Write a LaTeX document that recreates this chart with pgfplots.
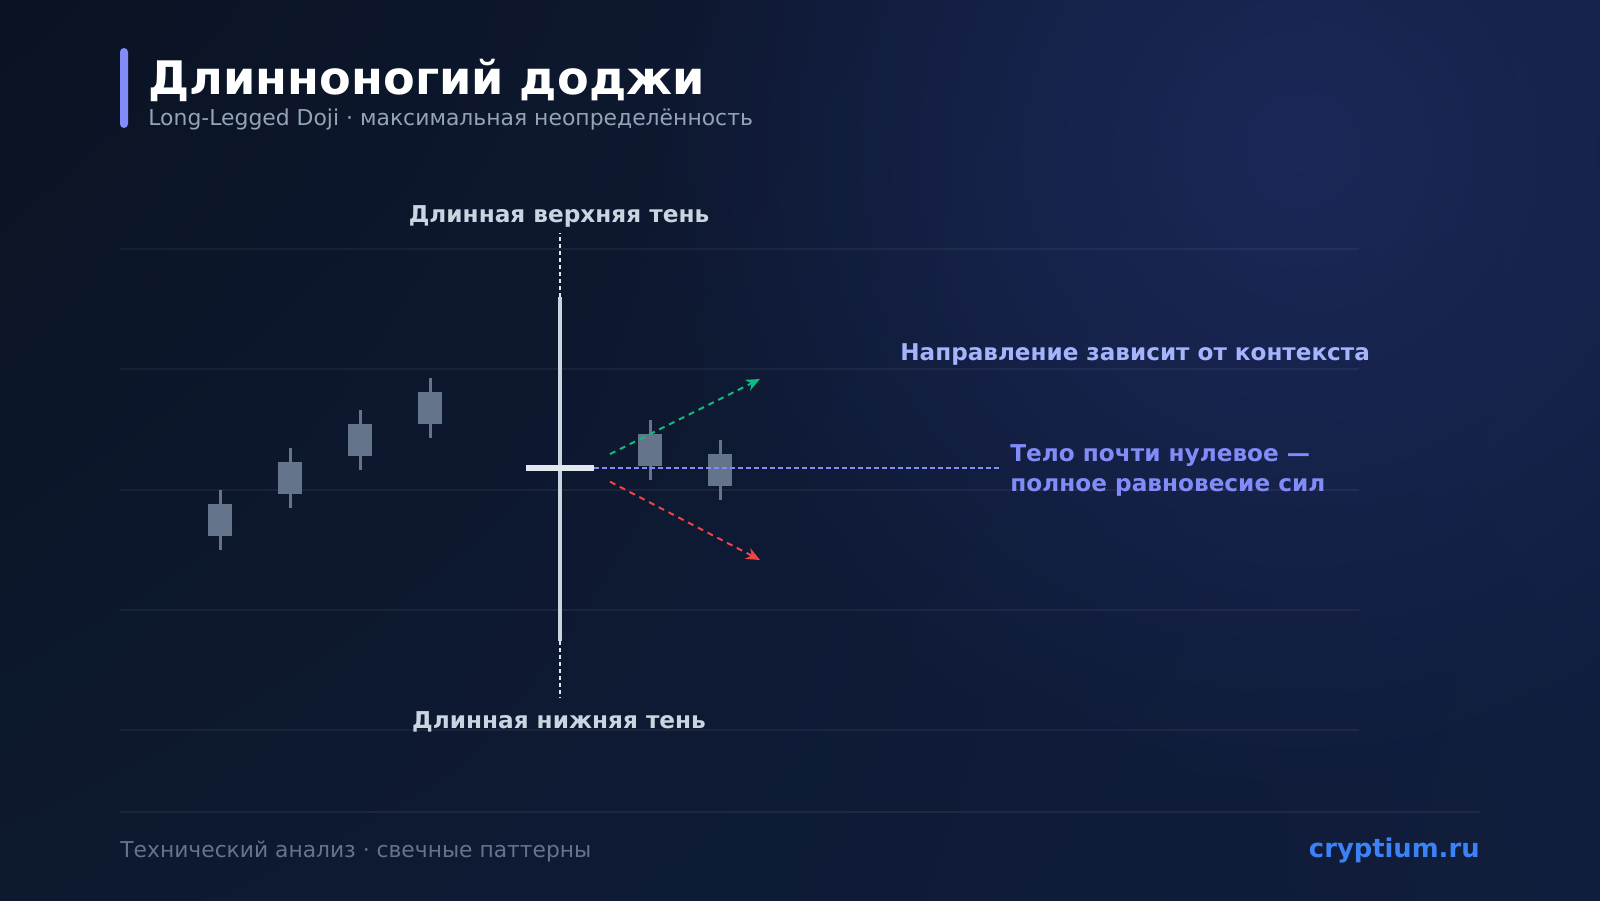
\documentclass[border=0pt]{standalone}
\usepackage{fontspec}
\setmainfont{DejaVu Sans}
\usepackage{pgfplots}
\usepackage{pgfplotstable}
\pgfplotsset{compat=1.18}
\usetikzlibrary{fadings,shadings,arrows.meta}

\tikzfading[name=glowfade, inner color=transparent!0, outer color=transparent!100]

\definecolor{bgUL}{HTML}{0A1322}
\definecolor{bgUR}{HTML}{121D40}
\definecolor{bgLL}{HTML}{0D192F}
\definecolor{bgLR}{HTML}{101D3C}
\definecolor{glow}{HTML}{1B2858}
\definecolor{accent}{HTML}{818CF8}
\definecolor{subt}{HTML}{94A3B8}
\definecolor{lbl}{HTML}{CBD5E1}
\definecolor{dirc}{HTML}{A5B4FC}
\definecolor{candle}{HTML}{64748B}
\definecolor{doji}{HTML}{E2E8F0}
\definecolor{dojiw}{HTML}{CBD5E1}
\definecolor{upc}{HTML}{10B981}
\definecolor{dnc}{HTML}{EF4444}
\definecolor{foot}{HTML}{64748B}
\definecolor{brand}{HTML}{3B82F6}

\pgfplotstableread{
x low high open close
22 114.97 119.96 116.13 118.79
29 118.46 123.45 119.63 122.29
36 121.62 126.60 122.79 125.45
43 124.28 129.27 125.45 128.11
65 120.79 125.78 121.96 124.62
72 119.13 124.12 120.29 122.95
}\candles

\pgfplotstableread{
x low high open close
56 107.40 136.00 121.55 122.03
}\doji

\begin{document}
\begin{tikzpicture}
\begin{scope}[x=0.5pt,y=-0.5pt]
  \useasboundingbox (0,0) rectangle (1600,900);
  \begin{scope}
    \clip (0,0) rectangle (1600,900);
    \shade[upper left=bgUL, upper right=bgUR, lower left=bgLL, lower right=bgLR] (0,0) rectangle (1600,900);
    \fill[glow, path fading=glowfade, fit fading=true] (1300,150) circle (650);
  \end{scope}
  \fill[accent, rounded corners=2pt] (120,48) rectangle (128,128);
  \draw[white, opacity=0.06, line width=1pt] (120,812) -- (1480,812);
\end{scope}

\begin{axis}[
  at={(60pt,-365pt)}, anchor=south west,
  scale only axis, width=619.5pt, height=240.5pt,
  xmin=12, xmax=135.9, ymin=100, ymax=140,
  ytick={100,110,120,130,140}, yticklabels={},
  xtick=\empty,
  ymajorgrids, grid style={white, opacity=0.05, line width=1pt},
  axis line style={draw=none}, major tick length=0pt,
  clip=false,
]
% wicks
\addplot[draw=none, mark=none, forget plot,
  error bars/.cd, y dir=both, y explicit,
  error mark=none, error bar style={candle, line width=1.5pt}]
  table[x=x, y expr=(\thisrow{low}+\thisrow{high})/2,
        y error expr=(\thisrow{high}-\thisrow{low})/2] {\candles};
% bodies
\addplot[draw=none, mark=none, forget plot,
  error bars/.cd, y dir=both, y explicit,
  error mark=none, error bar style={candle, line width=12pt}]
  table[x=x, y expr=(\thisrow{open}+\thisrow{close})/2,
        y error expr=(\thisrow{close}-\thisrow{open})/2] {\candles};
% doji extensions
\addplot[doji, line width=1pt, dash pattern=on 2pt off 1.5pt] coordinates {(56,136.0) (56,141.33)};
\addplot[doji, line width=1pt, dash pattern=on 2pt off 1.5pt] coordinates {(56,107.4) (56,102.66)};
% doji wick
\addplot[draw=none, mark=none, forget plot,
  error bars/.cd, y dir=both, y explicit,
  error mark=none, error bar style={dojiw, line width=2pt}]
  table[x=x, y expr=(\thisrow{low}+\thisrow{high})/2,
        y error expr=(\thisrow{high}-\thisrow{low})/2] {\doji};
% doji body
\addplot[draw=none, mark=none, forget plot,
  error bars/.cd, y dir=both, y explicit,
  error mark=none, error bar style={doji, line width=34pt}]
  table[x=x, y expr=(\thisrow{open}+\thisrow{close})/2,
        y error expr=(\thisrow{close}-\thisrow{open})/2] {\doji};
% equilibrium line
\addplot[accent, line width=1pt, dash pattern=on 2.5pt off 1.5pt] coordinates {(59.4,121.81) (99.9,121.81)};
% direction arrows
\addplot[upc, line width=1pt, dash pattern=on 3pt off 2.5pt, -{Stealth[length=7pt,width=6pt]}] coordinates {(61.0,122.95) (76.0,129.19)};
\addplot[dnc, line width=1pt, dash pattern=on 3pt off 2.5pt, -{Stealth[length=7pt,width=6pt]}] coordinates {(61.0,120.65) (76.0,114.14)};
\end{axis}

\begin{scope}[x=0.5pt,y=-0.5pt]
  \node[anchor=base west, inner sep=0pt, text=white, font=\fontsize{23.1}{28}\selectfont\bfseries] at (148,94) {Длинноногий доджи};
  \node[anchor=base west, inner sep=0pt, text=subt, font=\fontsize{10.95}{13}\selectfont] at (148,125.5) {Long-Legged Doji · максимальная неопределённость};
  \node[anchor=base, inner sep=0pt, text=lbl, font=\fontsize{11.6}{13}\selectfont\bfseries] at (559,222) {Длинная верхняя тень};
  \node[anchor=base, inner sep=0pt, text=lbl, font=\fontsize{11.6}{13}\selectfont\bfseries] at (559,728.5) {Длинная нижняя тень};
  \node[anchor=base west, inner sep=0pt, text=dirc, font=\fontsize{11.55}{13}\selectfont\bfseries] at (900,360) {Направление зависит от контекста};
  \node[anchor=base west, inner sep=0pt, text=accent, font=\fontsize{11.6}{13}\selectfont\bfseries] at (1010,461) {Тело почти нулевое —};
  \node[anchor=base west, inner sep=0pt, text=accent, font=\fontsize{11.6}{13}\selectfont\bfseries] at (1010,491) {полное равновесие сил};
  \node[anchor=base west, inner sep=0pt, text=foot, font=\fontsize{10.9}{13}\selectfont] at (120,857) {Технический анализ · свечные паттерны};
  \node[anchor=base east, inner sep=0pt, text=brand, font=\fontsize{12.9}{14}\selectfont\bfseries] at (1480,857) {cryptium.ru};
\end{scope}
\end{tikzpicture}
\end{document}
